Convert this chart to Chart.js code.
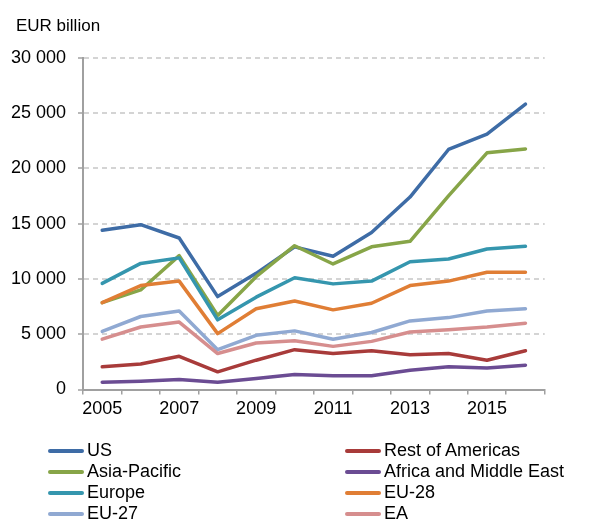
<!DOCTYPE html>
<html>
<head>
<meta charset="utf-8">
<script src="https://cdn.jsdelivr.net/npm/chart.js@4"></script>
<style>
  body { margin: 0; background: #fff; }
  #wrap { position: relative; width: 594px; height: 526px; font-family: "Liberation Sans", Arial, sans-serif; color: #000; }
  #unit { position: absolute; left: 16px; top: 17px; font-size: 17px; line-height: 18px; }
  #legend { position: absolute; left: 48px; top: 440px; display: grid; grid-template-columns: 297px auto; grid-auto-rows: 21.1px; }
  .item { display: flex; align-items: center; font-size: 18px; white-space: nowrap; }
  .swatch { width: 36px; height: 4px; border-radius: 2px; margin-right: 3px; }
</style>
</head>
<body>
<div id="wrap">
  <canvas id="chart" width="594" height="526"></canvas>
  <div id="unit">EUR billion</div>
  <div id="legend"></div>
</div>
<script>
// Lata (oś X)
const years = ["2005", "2006", "2007", "2008", "2009", "2010", "2011", "2012", "2013", "2014", "2015", "2016"];

// Serie (EUR mld)
const us = [14400, 14900, 13700, 8400, 10500, 12900, 12050, 14200, 17400, 21700, 23100, 25800];
const restOfAmericas = [2050, 2300, 3000, 1600, 2650, 3600, 3250, 3500, 3150, 3250, 2650, 3500];
const asiaPacific = [7850, 9000, 12100, 6700, 10200, 13000, 11350, 12900, 13400, 17500, 21400, 21750];
const africaMiddleEast = [650, 750, 900, 650, 1000, 1350, 1250, 1250, 1750, 2050, 1950, 2200];
const europe = [9600, 11400, 11900, 6300, 8350, 10100, 9550, 9800, 11550, 11800, 12700, 12950];
const eu28 = [7850, 9400, 9800, 5050, 7300, 8000, 7200, 7800, 9400, 9800, 10600, 10600];
const eu27 = [5250, 6600, 7100, 3600, 4900, 5300, 4550, 5150, 6200, 6500, 7100, 7300];
const ea = [4550, 5650, 6100, 3250, 4200, 4400, 3900, 4350, 5200, 5400, 5650, 6000];

const seriesNames = ["US", "Rest of Americas", "Asia-Pacific", "Africa and Middle East", "Europe", "EU-28", "EU-27", "EA"];
const seriesData = [us, restOfAmericas, asiaPacific, africaMiddleEast, europe, eu28, eu27, ea];
const seriesColors = ["#3e6ca6", "#a83b3a", "#87a548", "#6b4c93", "#3596ae", "#e07e35", "#90a9d2", "#d68e8e"];

// Format "30 000"
function formatThousands(v) {
  return String(v).replace(/\B(?=(\d{3})+(?!\d))/g, " ");
}

const datasets = seriesNames.map((name, i) => ({
  label: name,
  data: seriesData[i],
  borderColor: seriesColors[i],
  backgroundColor: seriesColors[i],
  borderWidth: 3.5,
  pointRadius: 0,
  tension: 0,
  borderCapStyle: "round",
  borderJoinStyle: "round",
  order: seriesNames.length - i, // późniejsze serie na wierzchu
}));

const ctx = document.getElementById("chart").getContext("2d");
Chart.defaults.font.family = '"Liberation Sans", Arial, sans-serif';
Chart.defaults.color = "#000";

const myChart = new Chart(ctx, {
  type: "line",
  data: { labels: years, datasets: datasets },
  options: {
    responsive: false,
    animation: false,
    layout: { padding: { left: 0, top: 57.7, right: 49.3, bottom: 96.5 } },
    plugins: { legend: { display: false }, tooltip: { enabled: false } },
    scales: {
      x: {
        type: "category",
        offset: true,
        afterFit: (scale) => { scale.height = 40; },
        grid: { offset: true, drawOnChartArea: false, tickLength: 5, color: "#a0a0a0", lineWidth: 1.5 },
        border: { color: "#a0a0a0", width: 2 },
        ticks: {
          autoSkip: false,
          maxRotation: 0,
          padding: 4,
          font: { size: 18 },
          callback: function (value, index) {
            return index % 2 === 0 ? this.getLabelForValue(value) : "";
          },
        },
      },
      y: {
        min: 0,
        max: 30000,
        afterFit: (scale) => { scale.width = 83; },
        grid: {
          color: "#d4d4d4",
          lineWidth: 2,
          tickLength: 5,
          tickColor: "#a0a0a0",
          tickBorderDash: [],
          tickWidth: 1.5,
        },
        // w v4 border.dash kreskuje linie siatki
        border: { color: "#a0a0a0", width: 2, dash: [5, 4] },
        ticks: {
          stepSize: 5000,
          padding: 12,
          font: { size: 18 },
          callback: (v) => formatThousands(v),
        },
      },
    },
  },
});

// Legenda w dwóch kolumnach (kolejność wierszami)
const legend = document.getElementById("legend");
seriesNames.forEach((name, i) => {
  const item = document.createElement("div");
  item.className = "item";
  const sw = document.createElement("span");
  sw.className = "swatch";
  sw.style.background = seriesColors[i];
  const txt = document.createElement("span");
  txt.innerText = name;
  item.appendChild(sw);
  item.appendChild(txt);
  legend.appendChild(item);
});
</script>
</body>
</html>
